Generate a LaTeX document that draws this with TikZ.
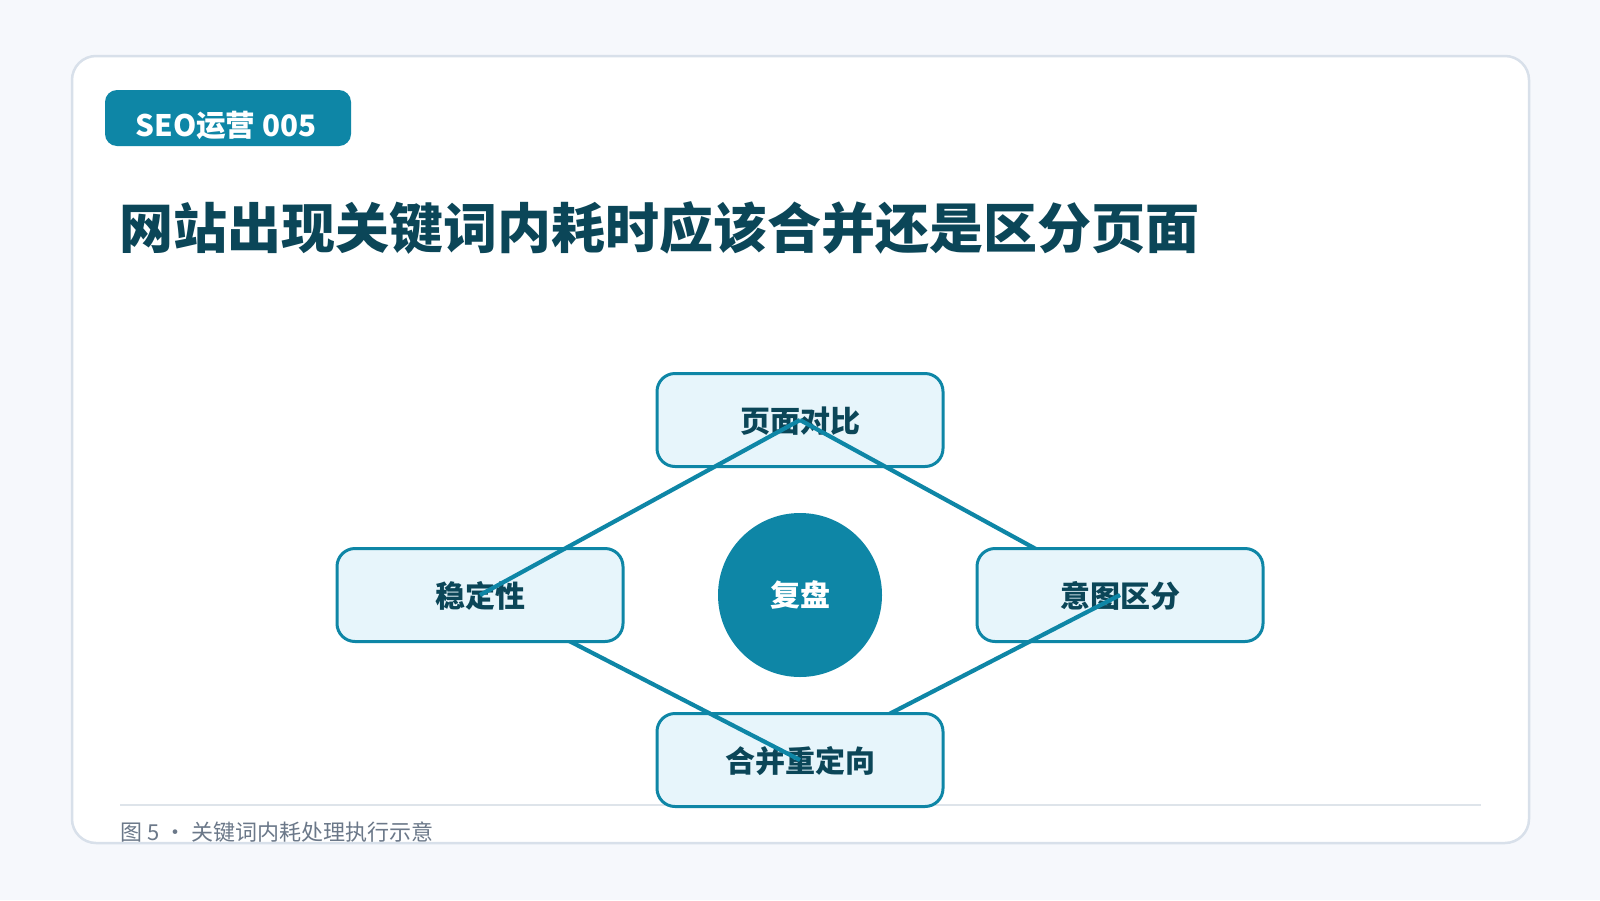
\documentclass[tikz,border=0pt]{standalone}
\usepackage{fontspec}
\setmainfont{Noto Sans CJK SC}
\usetikzlibrary{positioning,calc}

\definecolor{pagebg}{HTML}{F6F8FC}
\definecolor{cardline}{HTML}{D8E0EA}
\definecolor{teal}{HTML}{0E86A6}
\definecolor{deepteal}{HTML}{0B4658}
\definecolor{boxfill}{HTML}{E7F5FB}
\definecolor{rulegray}{HTML}{DEE4EA}
\definecolor{capgray}{HTML}{6B7889}

\begin{document}
\begin{tikzpicture}[
  x=0.5pt, y=-0.5pt,
  tag/.style={rectangle, rounded corners=6pt, fill=teal, minimum width=123pt, minimum height=28pt, inner sep=0pt},
  tagtext/.style={text=white, font=\fontsize{14.8pt}{17pt}\selectfont\bfseries, inner sep=0pt},
  sat/.style={rectangle, rounded corners=9pt, draw=teal, line width=1.5pt, fill=boxfill, minimum width=143pt, minimum height=46.5pt, text height=1.32em, text depth=0.09em, text=deepteal, font=\fontsize{15pt}{17pt}\selectfont\bfseries},
  hub/.style={circle, fill=teal, minimum size=82pt, inner sep=0pt, text height=1.28em, text depth=0.1em, text=white, font=\fontsize{15pt}{17pt}\selectfont\bfseries},
  link/.style={draw=teal, line width=2.1pt}
]
\useasboundingbox[fill=pagebg] (0,0) rectangle (1600,900);

% Card
\draw[fill=white, draw=cardline, line width=1.25pt, rounded corners=12pt] (72,56) rectangle (1529,843);
\node[tag] (tag) at (228,118) {};
\node[tagtext] (tagtext) at ([xshift=-1pt, yshift=-3.5pt]tag.center) {SEO运营 005};
\node[anchor=west, inner sep=0pt, text=deepteal, font=\fontsize{27pt}{30pt}\selectfont\bfseries] (title) at (119,228) {网站出现关键词内耗时应该合并还是区分页面};
\coordinate (ruleL) at (120,805);
\coordinate (ruleR) at (1481,805);
\draw[rulegray, line width=1pt] (ruleL) -- (ruleR);
\node[anchor=west, inner sep=0pt, text=capgray, font=\fontsize{11pt}{13pt}\selectfont] (caption) at (120,832) {图 5 · 关键词内耗处理执行示意};

% Centres
\coordinate (ptop) at (800,420);
\coordinate (pright) at (1120,595);
\coordinate (pbottom) at (800,760);
\coordinate (pleft) at (480,595);

% Nodes and links
\node[hub] (hub) at (800,595) {复盘};
\node[sat] (top) at (ptop) {页面对比};
\draw[link] (top.center) -- (pright);
\node[sat] (right) at (pright) {意图区分};
\draw[link] (right.center) -- (pbottom);
\node[sat] (bottom) at (pbottom) {合并重定向};
\draw[link] (bottom.center) -- (pleft);
\node[sat] (left) at (pleft) {稳定性};
\draw[link] (left.center) -- (top.center);

\end{tikzpicture}
\end{document}
